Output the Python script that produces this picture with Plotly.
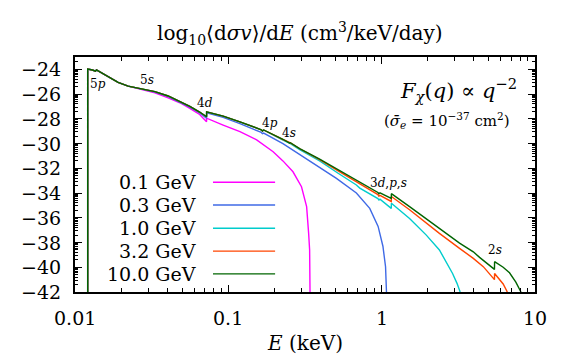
import numpy as np
import plotly.graph_objects as go

# ---------------- data ----------------
masses = ["0.1 GeV", "0.3 GeV", "1.0 GeV", "3.2 GeV", "10.0 GeV"]
colors = ["#ff00ff", "#3f6ae6", "#00cccc", "#ff4500", "#006400"]

E_start = [0.0121, 0.0121, 0.0130, 0.0136, 0.0138, 0.0165, 0.0191, 0.0222]
v_start = [-42, -23.98, -24.05, -24.14, -24.05, -24.6, -25.05, -25.35]

E_01 = E_start + [0.0272, 0.0332, 0.0405, 0.0483, 0.0561, 0.0650, 0.0721, 0.0722,
                  0.0925, 0.119, 0.153, 0.196, 0.227, 0.264, 0.300, 0.324, 0.334, 0.339, 0.341]
v_01 = v_start + [-25.65, -25.9, -26.3, -26.7, -27.15, -27.65, -28.24, -27.95,
                  -28.5, -29.04, -29.7, -30.66, -31.4, -32.28, -33.49, -35.1, -37.26, -38.6, -42]

E_03 = E_start + [0.0272, 0.0332, 0.0405, 0.0483, 0.0561, 0.0650, 0.0721, 0.0722,
                  0.0800, 0.0925, 0.119, 0.145, 0.164, 0.167, 0.170, 0.227, 0.264, 0.292,
                  0.375, 0.507, 0.684, 0.836, 0.948, 1.019, 1.060, 1.075]
v_03 = v_start + [-25.62, -25.83, -26.2, -26.65, -27.05, -27.52, -27.95, -27.52,
                  -27.65, -27.88, -28.38, -28.8, -29.1, -29.2, -29.15, -30.0, -30.52, -30.85,
                  -31.74, -32.81, -34.0, -35.24, -36.7, -38.3, -39.96, -42]

E_10 = E_start + [0.0272, 0.0332, 0.0405, 0.0483, 0.0561, 0.0650, 0.0721, 0.0722,
                  0.0800, 0.0925, 0.119, 0.145, 0.164, 0.167, 0.170, 0.227, 0.248, 0.251,
                  0.254, 0.292, 0.394, 0.520, 0.684, 0.720, 0.945, 0.960, 0.975, 1.155, 1.157,
                  1.52, 1.955, 2.38, 2.69, 2.90, 3.10, 3.25]
v_10 = v_start + [-25.6, -25.8, -26.15, -26.6, -27.0, -27.45, -27.83, -27.43,
                  -27.55, -27.78, -28.24, -28.6, -28.88, -28.98, -28.9, -29.72, -29.97, -30.02,
                  -30.0, -30.5, -31.4, -32.4, -33.35, -33.6, -34.45, -34.57, -34.5, -35.24, -34.83,
                  -36.05, -37.4, -38.6, -39.8, -40.5, -41.3, -42]

E_32 = E_start + [0.0272, 0.0332, 0.0405, 0.0483, 0.0561, 0.0650, 0.0721, 0.0722,
                  0.0800, 0.0925, 0.119, 0.145, 0.164, 0.167, 0.170, 0.227, 0.248, 0.251,
                  0.254, 0.292, 0.394, 0.520, 0.720, 0.945, 0.960, 0.975, 1.155, 1.157,
                  1.52, 1.955, 2.38, 3.22, 3.96, 4.60, 5.44, 5.45, 6.20, 6.60]
v_32 = v_start + [-25.6, -25.8, -26.15, -26.6, -27.0, -27.45, -27.83, -27.43,
                  -27.55, -27.78, -28.24, -28.6, -28.88, -28.98, -28.9, -29.67, -29.92, -29.98,
                  -29.95, -30.42, -31.3, -32.2, -33.25, -34.12, -34.25, -34.18, -34.68, -34.28,
                  -35.35, -36.45, -37.26, -38.47, -39.28, -39.95, -41.0, -40.5, -41.35, -42]

E_100 = E_start + [0.0272, 0.0332, 0.0405, 0.0483, 0.0561, 0.0650, 0.0721, 0.0722,
                   0.0800, 0.0925, 0.119, 0.145, 0.164, 0.167, 0.170, 0.227, 0.248, 0.251,
                   0.254, 0.292, 0.394, 0.520, 0.720, 0.945, 0.960, 0.975, 1.155, 1.157,
                   1.52, 1.955, 2.38, 3.22, 3.96, 4.35, 5.44, 5.45, 6.20, 6.82, 7.50, 8.10]
v_100 = v_start + [-25.6, -25.8, -26.15, -26.6, -27.0, -27.45, -27.83, -27.43,
                   -27.55, -27.78, -28.24, -28.6, -28.88, -28.98, -28.9, -29.65, -29.9, -29.97,
                   -29.93, -30.4, -31.25, -32.1, -33.15, -33.95, -34.05, -33.98, -34.43, -34.05,
                   -35.1, -36.1, -36.85, -38.05, -38.75, -39.2, -40.17, -39.55, -40.0, -40.45, -41.2, -42]

series_E = [E_01, E_03, E_10, E_32, E_100]
series_v = [v_01, v_03, v_10, v_32, v_100]

x_tickvals = [0.01, 0.1, 1, 10]
x_ticktext = ["0.01", "0.1", "1", "10"]
y_tickvals = list(range(-42, -23, 2))
y_ticktext = ["−%d" % (-t) for t in y_tickvals]

shell_labels = ["5<i>p</i>", "5<i>s</i>", "4<i>d</i>", "4<i>p</i>", "4<i>s</i>", "3<i>d</i>,<i>p</i>,<i>s</i>", "2<i>s</i>"]
shell_E = [0.0142, 0.0297, 0.0703, 0.186, 0.248, 1.10, 5.45]
shell_v = [-25.2, -24.87, -26.75, -28.37, -29.17, -33.2, -38.6]

# ---------------- figure ----------------
FONT = "DejaVu Serif"
fig = go.Figure()
for E, v, c in zip(series_E, series_v, colors):
    fig.add_trace(go.Scatter(x=E, y=v, mode="lines", line=dict(color=c, width=1.4),
                             showlegend=False, hoverinfo="skip"))

minor_x = [k * 10.0 ** d for d in (-2, -1, 0) for k in range(2, 10)]
minor_y = [lo + 2 * np.log10(k) for lo in range(-42, -23, 2) for k in range(2, 10)
           if lo + 2 * np.log10(k) < -23]

fig.update_layout(
    width=570, height=360,
    margin=dict(l=75, r=35, t=57, b=68),
    plot_bgcolor="white", paper_bgcolor="white",
    font=dict(family=FONT, size=18, color="black"),
    showlegend=False,
)
fig.update_xaxes(type="log", range=[-2, 1], tickvals=x_tickvals, showticklabels=False,
                 ticks="inside", ticklen=7, tickwidth=1, tickcolor="black",
                 showline=True, linecolor="black", linewidth=1.5, mirror="allticks",
                 showgrid=False, zeroline=False,
                 minor=dict(tickmode="array", tickvals=minor_x, ticks="inside",
                            ticklen=4, tickcolor="black", showgrid=False))
fig.update_yaxes(range=[-42, -23], tickvals=y_tickvals, showticklabels=False,
                 ticks="inside", ticklen=7, tickwidth=1, tickcolor="black",
                 showline=True, linecolor="black", linewidth=1.5, mirror="allticks",
                 showgrid=False, zeroline=False,
                 minor=dict(tickmode="array", tickvals=minor_y, ticks="inside",
                            ticklen=3, tickcolor="black", showgrid=False))

ann = []
# tick labels (as text so the serif font is honoured)
for tv, tt in zip(x_tickvals, x_ticktext):
    ann.append(dict(text=tt, x=np.log10(tv), xref="x", y=0, yref="paper", yshift=-26,
                    xanchor="center", yanchor="middle", showarrow=False,
                    font=dict(family=FONT, size=19)))
for tv, tt in zip(y_tickvals, y_ticktext):
    ann.append(dict(text=tt, x=0, xref="paper", xshift=-12, y=tv, yref="y",
                    xanchor="right", yanchor="middle", showarrow=False,
                    font=dict(family=FONT, size=19)))
# title
ann.append(dict(text="log<sub>10</sub>⟨d<i>σv</i>⟩/d<i>E</i> (cm<sup>3</sup>/keV/day)",
                xref="paper", yref="paper", x=0.49, y=1.0, yshift=24, xanchor="center",
                yanchor="middle", showarrow=False, font=dict(family=FONT, size=20)))
# x-axis title
ann.append(dict(text="<i>E</i> (keV)", xref="paper", yref="paper", x=0.5, y=0, yshift=-51,
                xanchor="center", yanchor="middle", showarrow=False, font=dict(family=FONT, size=20)))
# formula
ann.append(dict(text="<i>F<sub>χ</sub></i>(<i>q</i>) ∝ <i>q</i><sup>−2</sup>",
                xref="paper", yref="paper", x=0.965, y=0.86, xanchor="right", yanchor="middle",
                showarrow=False, font=dict(family=FONT, size=21)))
ann.append(dict(text="(<i>σ̄<sub>e</sub></i> = 10<sup>−37</sup> cm<sup>2</sup>)",
                xref="paper", yref="paper", x=0.95, y=0.73, xanchor="right", yanchor="middle",
                showarrow=False, font=dict(family=FONT, size=15)))
# shell labels
for t, e, v in zip(shell_labels, shell_E, shell_v):
    ann.append(dict(text=t, x=np.log10(e), y=v, xref="x", yref="y", showarrow=False,
                    xanchor="center", yanchor="middle", font=dict(family=FONT, size=12)))

# legend (text left, line sample right)
leg_y = [0.467, 0.370, 0.271, 0.174, 0.077]
shapes = []
for m, c, yy in zip(masses, colors, leg_y):
    ann.append(dict(text=m, xref="paper", yref="paper", x=0.267, y=yy, xanchor="right",
                    yanchor="middle", showarrow=False, font=dict(family=FONT, size=19)))
    shapes.append(dict(type="line", xref="paper", yref="paper", x0=0.30, x1=0.435,
                       y0=yy, y1=yy, line=dict(color=c, width=1.4)))
fig.update_layout(annotations=ann, shapes=shapes)

fig.write_html("out.html")
